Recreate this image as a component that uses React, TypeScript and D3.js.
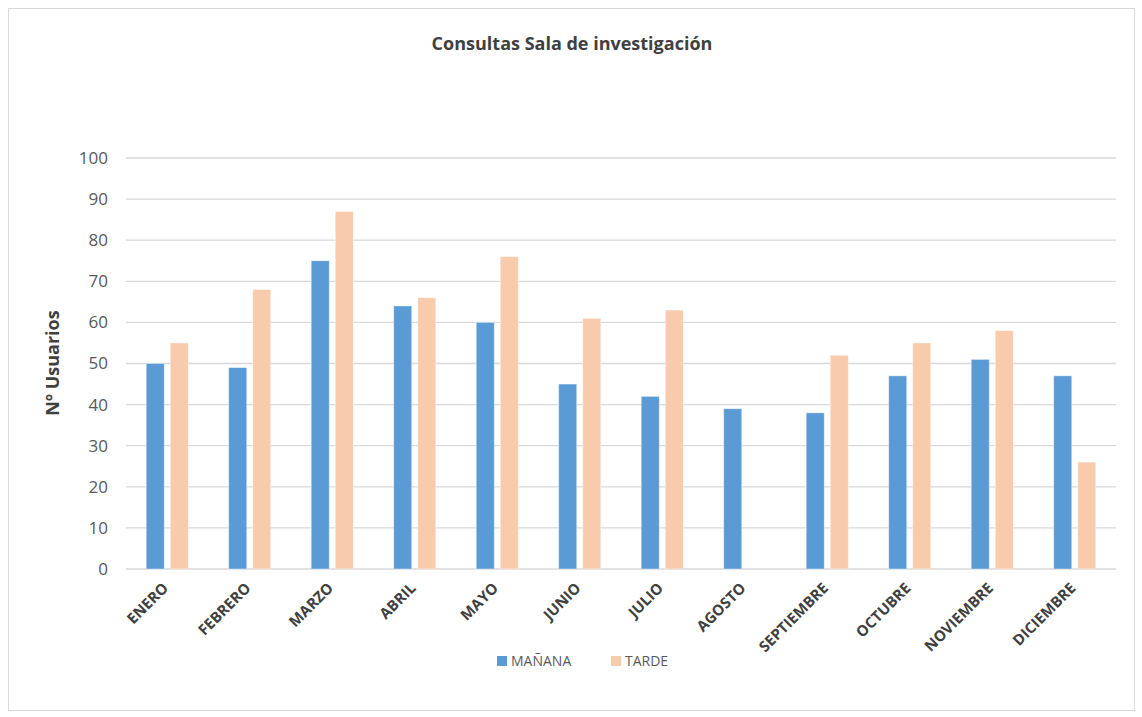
import * as d3 from "d3";

const months = [
  "ENERO", "FEBRERO", "MARZO", "ABRIL", "MAYO", "JUNIO",
  "JULIO", "AGOSTO", "SEPTIEMBRE", "OCTUBRE", "NOVIEMBRE", "DICIEMBRE",
];
const seriesNames = ["MAÑANA", "TARDE"];
const manana = [50, 49, 75, 64, 60, 45, 42, 39, 38, 47, 51, 47];
const tarde = [55, 68, 87, 66, 76, 61, 63, 0, 52, 55, 58, 26];
const yTicks = [0, 10, 20, 30, 40, 50, 60, 70, 80, 90, 100];
const colors = ["#5b9bd5", "#f8cbad"];

const W = 1142;
const H = 717;
const FONT = "'Liberation Sans Narrow', 'Open Sans', 'Noto Sans', sans-serif";

export default function App() {
  const margin = { top: 158, right: 26, bottom: 148, left: 126 };
  const plotW = W - margin.left - margin.right;
  const plotH = H - margin.top - margin.bottom;

  const x0 = d3
    .scaleBand()
    .domain(months)
    .range([0, plotW])
    .paddingInner(0.49)
    .paddingOuter(0.245);

  const x1 = d3
    .scaleBand()
    .domain(seriesNames)
    .range([0, x0.bandwidth()])
    .paddingInner(0.25);

  const y = d3.scaleLinear().domain([0, 100]).range([plotH, 0]);

  const values = [manana, tarde];

  return (
    <svg
      width={W}
      height={H}
      style={{ position: "absolute", left: 0, top: 0, background: "#fff" }}
    >
      <rect x={8.5} y={8.5} width={1126} height={702} fill="#fff" stroke="#d9d9d9" />
      <text
        x={572}
        y={50}
        textAnchor="middle"
        fontFamily={FONT}
        fontSize={18}
        fontWeight="bold"
        fill="#404040"
      >
        Consultas Sala de investigación
      </text>

      <g transform={`translate(${margin.left},${margin.top})`}>
        {/* grid */}
        {yTicks.map((t) => (
          <g key={t}>
            <line
              x1={0}
              x2={plotW}
              y1={y(t)}
              y2={y(t)}
              stroke="#d9d9d9"
              strokeWidth={1.3}
            />
            <text
              x={-18}
              y={y(t)}
              dy="0.35em"
              textAnchor="end"
              fontFamily={FONT}
              fontSize={17}
              fill="#595959"
            >
              {t}
            </text>
          </g>
        ))}

        {/* bars */}
        {months.map((m, i) => (
          <g key={m} transform={`translate(${x0(m)},0)`}>
            {seriesNames.map((s, j) =>
              values[j][i] > 0 ? (
                <rect
                  key={s}
                  x={x1(s)}
                  y={y(values[j][i])}
                  width={x1.bandwidth()}
                  height={plotH - y(values[j][i])}
                  fill={colors[j]}
                  stroke="#fff"
                  strokeOpacity={0.5}
                  strokeWidth={0.8}
                />
              ) : null
            )}
          </g>
        ))}

        {/* x labels */}
        {months.map((m) => {
          const cx = (x0(m) ?? 0) + x0.bandwidth() / 2;
          return (
            <text
              key={m}
              transform={`translate(${cx + 2},${plotH + 20}) rotate(-45)`}
              textAnchor="end"
              fontFamily={FONT}
              fontSize={15}
              fontWeight="bold"
              fill="#404040"
            >
              {m}
            </text>
          );
        })}
      </g>

      <text
        transform={`translate(59,363) rotate(-90)`}
        textAnchor="middle"
        fontFamily={FONT}
        fontSize={18}
        fontWeight="bold"
        fill="#404040"
      >
        Nº Usuarios
      </text>

      {/* legend */}
      {seriesNames.map((s, j) => {
        const lx = j === 0 ? 497 : 611;
        return (
          <g key={s} transform={`translate(${lx},656)`}>
            <rect x={0} y={0} width={10} height={10} fill={colors[j]} />
            <text
              x={14}
              y={5}
              dy="0.35em"
              fontFamily={FONT}
              fontSize={14}
              fill="#595959"
            >
              {s}
            </text>
          </g>
        );
      })}
    </svg>
  );
}
